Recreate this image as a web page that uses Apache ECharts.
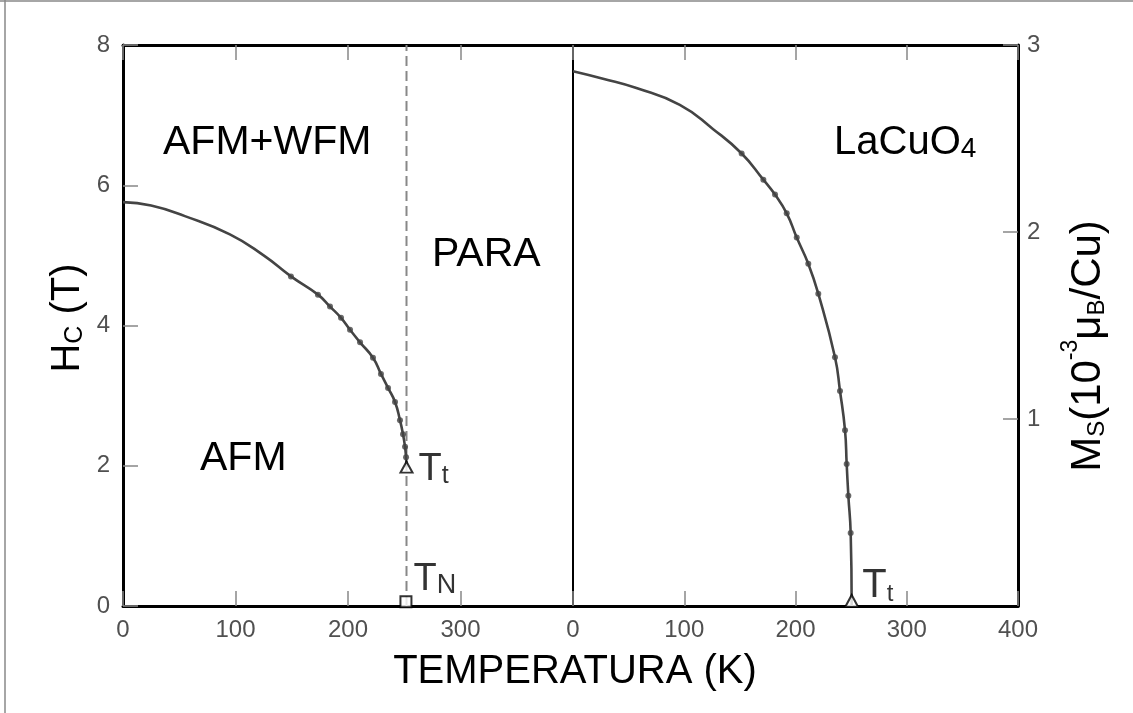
<!DOCTYPE html>
<html>
<head>
<meta charset="utf-8">
<script src="https://cdn.jsdelivr.net/npm/echarts@6/dist/echarts.min.js"></script>
<style>
  html, body { margin: 0; padding: 0; background: #fff; }
  #chart { width: 1133px; height: 713px; }
</style>
</head>
<body>
<div id="chart"></div>
<script>
// Critical field H_C versus temperature (left panel)
const hcCurveT = [0, 25, 55, 95, 125, 149.3, 173.3, 184, 193.8, 201.8, 210.7, 222.2, 229.3, 235.6, 241.8, 246.2, 248.9, 250.7, 251.6, 252];
const hcCurveH = [5.76, 5.71, 5.56, 5.30, 5.00, 4.70, 4.44, 4.27, 4.11, 3.94, 3.76, 3.54, 3.31, 3.11, 2.91, 2.65, 2.45, 2.27, 2.12, 1.98];
// measured points on the H_C curve
const hcDotT = [149.3, 173.3, 184, 193.8, 201.8, 210.7, 222.2, 229.3, 235.6, 241.8, 246.2, 248.9, 250.7, 251.6];
const hcDotH = [4.70, 4.44, 4.27, 4.11, 3.94, 3.76, 3.54, 3.31, 3.11, 2.91, 2.65, 2.45, 2.27, 2.12];

// Spontaneous moment M_S versus temperature (right panel)
const msCurveT = [0, 27, 57, 96, 126, 151.6, 171.1, 181.6, 192.1, 201.1, 211.5, 220.5, 235.5, 240, 244.5, 246, 247.5, 249.6, 250.5];
const msCurveM = [2.86, 2.82, 2.77, 2.68, 2.55, 2.42, 2.28, 2.20, 2.10, 1.97, 1.83, 1.67, 1.33, 1.15, 0.94, 0.76, 0.59, 0.39, 0.0];
const msDotT = [151.6, 171.1, 181.6, 192.1, 201.1, 211.5, 220.5, 235.5, 240, 244.5, 246, 247.5, 249.6];
const msDotM = [2.42, 2.28, 2.20, 2.10, 1.97, 1.83, 1.67, 1.33, 1.15, 0.94, 0.76, 0.59, 0.39];

// transition temperatures
const tTransLeft = 252;   // T_t on the H_C curve
const hTrans = 1.98;
const tNeel = 251.5;      // T_N at zero field
const hNeel = 0.06;
const tTransRight = 250.5; // T_t where M_S vanishes

// axis ranges
const tempRange = [0, 400];
const hcRange = [0, 8];
const msRange = [0, 3];

const FONT = "'Liberation Sans', Arial, Helvetica, sans-serif";
const TICK_COLOR = '#505050';

const zip = (a, b) => a.map((v, i) => [v, b[i]]);

const chart = echarts.init(document.getElementById('chart'));

const axisLabelStyle = { color: TICK_COLOR, fontFamily: FONT, fontSize: 24 };
const innerTick = { show: true, inside: true, length: 15, lineStyle: { color: '#888', width: 1.5 } };

function bottomAxis(grid, showMax) {
  return {
    type: 'value', gridIndex: grid, position: 'bottom',
    min: tempRange[0], max: tempRange[1], interval: 100,
    axisLine: { show: true, onZero: false, lineStyle: { color: '#000', width: 3 } },
    axisTick: innerTick,
    axisLabel: Object.assign({ margin: 12, showMaxLabel: showMax }, axisLabelStyle),
    splitLine: { show: false }
  };
}
function topAxis(grid) {
  return {
    type: 'value', gridIndex: grid, position: 'top',
    min: tempRange[0], max: tempRange[1], interval: 100,
    axisLine: { show: true, onZero: false, lineStyle: { color: '#000', width: 3 } },
    axisTick: innerTick,
    axisLabel: { show: false },
    splitLine: { show: false }
  };
}

const option = {
  backgroundColor: '#fff',
  animation: false,
  grid: [
    { left: 123, top: 45, width: 450, height: 561, outerBoundsMode: 'none' },
    { left: 573, top: 45, width: 445, height: 561, outerBoundsMode: 'none' }
  ],
  xAxis: [bottomAxis(0, false), topAxis(0), bottomAxis(1, true), topAxis(1)],
  yAxis: [
    {
      type: 'value', gridIndex: 0, position: 'left',
      min: hcRange[0], max: hcRange[1], interval: 2,
      axisLine: { show: true, onZero: false, lineStyle: { color: '#000', width: 3 } },
      axisTick: innerTick,
      axisLabel: Object.assign({ margin: 13 }, axisLabelStyle),
      splitLine: { show: false }
    },
    {
      // divider between the two panels
      type: 'value', gridIndex: 0, position: 'right',
      min: hcRange[0], max: hcRange[1], interval: 2,
      axisLine: { show: true, onZero: false, lineStyle: { color: '#000', width: 2 } },
      axisTick: { show: false }, axisLabel: { show: false }, splitLine: { show: false }
    },
    {
      type: 'value', gridIndex: 1, position: 'right',
      min: msRange[0], max: msRange[1], interval: 1,
      axisLine: { show: true, onZero: false, lineStyle: { color: '#000', width: 3 } },
      axisTick: innerTick,
      axisLabel: Object.assign({ margin: 9, showMinLabel: false }, axisLabelStyle),
      splitLine: { show: false }
    }
  ],
  series: [
    {
      // phase boundary at T_N
      type: 'line', xAxisIndex: 0, yAxisIndex: 0, z: 1,
      data: [[tTransLeft, hcRange[0]], [tTransLeft, hcRange[1]]],
      showSymbol: false, silent: true,
      lineStyle: { color: '#888', width: 2, type: [10, 5] }
    },
    {
      type: 'line', xAxisIndex: 0, yAxisIndex: 0, z: 2,
      data: zip(hcCurveT, hcCurveH),
      smooth: 0.5, showSymbol: false,
      lineStyle: { color: '#444', width: 2.6 }
    },
    {
      type: 'scatter', xAxisIndex: 0, yAxisIndex: 0, z: 3,
      data: zip(hcDotT, hcDotH),
      symbol: 'circle', symbolSize: 6,
      itemStyle: { color: '#444' }
    },
    {
      type: 'line', xAxisIndex: 2, yAxisIndex: 2, z: 2,
      data: zip(msCurveT, msCurveM),
      smooth: 0.5, showSymbol: false,
      lineStyle: { color: '#444', width: 2.6 }
    },
    {
      type: 'scatter', xAxisIndex: 2, yAxisIndex: 2, z: 3,
      data: zip(msDotT, msDotM),
      symbol: 'circle', symbolSize: 6,
      itemStyle: { color: '#444' }
    },
    {
      // T_t on the H_C boundary
      type: 'scatter', xAxisIndex: 0, yAxisIndex: 0, z: 5,
      data: [[tTransLeft, hTrans]],
      symbol: 'emptyTriangle', symbolSize: [12, 11],
      itemStyle: { color: '#000', borderColor: '#000', borderWidth: 1.8 },
      label: {
        show: true, position: 'right', distance: 5, offset: [0, -1],
        formatter: '{a|T}{b|t}',
        rich: {
          a: { fontFamily: FONT, fontSize: 38, lineHeight: 44, color: '#000', verticalAlign: 'bottom' },
          b: { fontFamily: FONT, fontSize: 25, lineHeight: 23, color: '#000', verticalAlign: 'bottom' }
        }
      }
    },
    {
      // T_N at zero field
      type: 'scatter', xAxisIndex: 0, yAxisIndex: 0, z: 5,
      data: [[tNeel, hNeel]],
      symbol: 'emptyRect', symbolSize: 11,
      itemStyle: { color: '#000', borderColor: '#000', borderWidth: 1.8 },
      label: {
        show: true, position: 'right', distance: 1, offset: [0, -25],
        formatter: '{a|T}{b|N}',
        rich: {
          a: { fontFamily: FONT, fontSize: 38, lineHeight: 44, color: '#000', verticalAlign: 'bottom' },
          b: { fontFamily: FONT, fontSize: 27, lineHeight: 23, color: '#000', verticalAlign: 'bottom' }
        }
      }
    },
    {
      // T_t where M_S vanishes
      type: 'scatter', xAxisIndex: 2, yAxisIndex: 2, z: 5,
      data: [[tTransRight, 0]],
      symbol: 'emptyTriangle', symbolSize: [13, 12], symbolOffset: [0, -5],
      itemStyle: { color: '#000', borderColor: '#000', borderWidth: 1.8 },
      label: {
        show: true, position: 'right', distance: 3, offset: [0, -18],
        formatter: '{a|T}{b|t}',
        rich: {
          a: { fontFamily: FONT, fontSize: 40, lineHeight: 46, color: '#000', verticalAlign: 'bottom' },
          b: { fontFamily: FONT, fontSize: 24, lineHeight: 23, color: '#000', verticalAlign: 'bottom' }
        }
      }
    }
  ],
  graphic: [
    // page border
    { type: 'line', shape: { x1: 5, y1: 0, x2: 5, y2: 713 }, style: { stroke: '#888', lineWidth: 1.5 } },
    { type: 'line', shape: { x1: 0, y1: 1, x2: 1133, y2: 1 }, style: { stroke: '#888', lineWidth: 1.5 } },
    // phase labels
    { type: 'text', x: 163, y: 143, style: { text: 'AFM+WFM', fontFamily: FONT, fontSize: 41, fill: '#000', align: 'left', verticalAlign: 'middle', textAlign: 'left', textVerticalAlign: 'middle' } },
    { type: 'text', x: 432, y: 255, style: { text: 'PARA', fontFamily: FONT, fontSize: 41, fill: '#000', align: 'left', verticalAlign: 'middle', textAlign: 'left', textVerticalAlign: 'middle' } },
    { type: 'text', x: 200, y: 459, style: { text: 'AFM', fontFamily: FONT, fontSize: 41, fill: '#000', align: 'left', verticalAlign: 'middle', textAlign: 'left', textVerticalAlign: 'middle' } },
    {
      type: 'text', x: 834, y: 139,
      style: {
        text: '{a|LaCuO}{s|4}', align: 'left', verticalAlign: 'middle', textAlign: 'left', textVerticalAlign: 'middle',
        rich: {
          a: { fontFamily: FONT, fontSize: 40, lineHeight: 48, fill: '#000', color: '#000', verticalAlign: 'bottom' },
          s: { fontFamily: FONT, fontSize: 28, lineHeight: 32, fill: '#000', color: '#000', verticalAlign: 'bottom' }
        }
      }
    },
    // axis titles
    {
      type: 'text', x: 575, y: 672,
      style: { text: 'TEMPERATURA (K)', fontFamily: FONT, fontSize: 40, fill: '#000', align: 'center', verticalAlign: 'middle', textAlign: 'center', textVerticalAlign: 'middle' }
    },
    {
      type: 'text', x: 64, y: 318, rotation: Math.PI / 2,
      style: {
        text: '{a|H}{s|C}{a| (T)}', align: 'center', verticalAlign: 'middle', textAlign: 'center', textVerticalAlign: 'middle',
        rich: {
          a: { fontFamily: FONT, fontSize: 40, lineHeight: 48, fill: '#000', color: '#000', verticalAlign: 'bottom' },
          s: { fontFamily: FONT, fontSize: 25, lineHeight: 38, fill: '#000', color: '#000', verticalAlign: 'bottom' }
        }
      }
    },
    {
      type: 'text', x: 1084, y: 346, rotation: Math.PI / 2,
      style: {
        text: '{a|M}{s|S}{a|(10}{p|-3}{a|μ}{s|B}{a|/Cu)}', align: 'center', verticalAlign: 'middle', textAlign: 'center', textVerticalAlign: 'middle',
        rich: {
          a: { fontFamily: FONT, fontSize: 42, lineHeight: 50, fill: '#000', color: '#000', verticalAlign: 'bottom' },
          s: { fontFamily: FONT, fontSize: 24, lineHeight: 38, fill: '#000', color: '#000', verticalAlign: 'bottom' },
          p: { fontFamily: FONT, fontSize: 23, lineHeight: 21, fill: '#000', color: '#000', verticalAlign: 'top' }
        }
      }
    }
  ]
};

chart.setOption(option);
</script>
</body>
</html>
